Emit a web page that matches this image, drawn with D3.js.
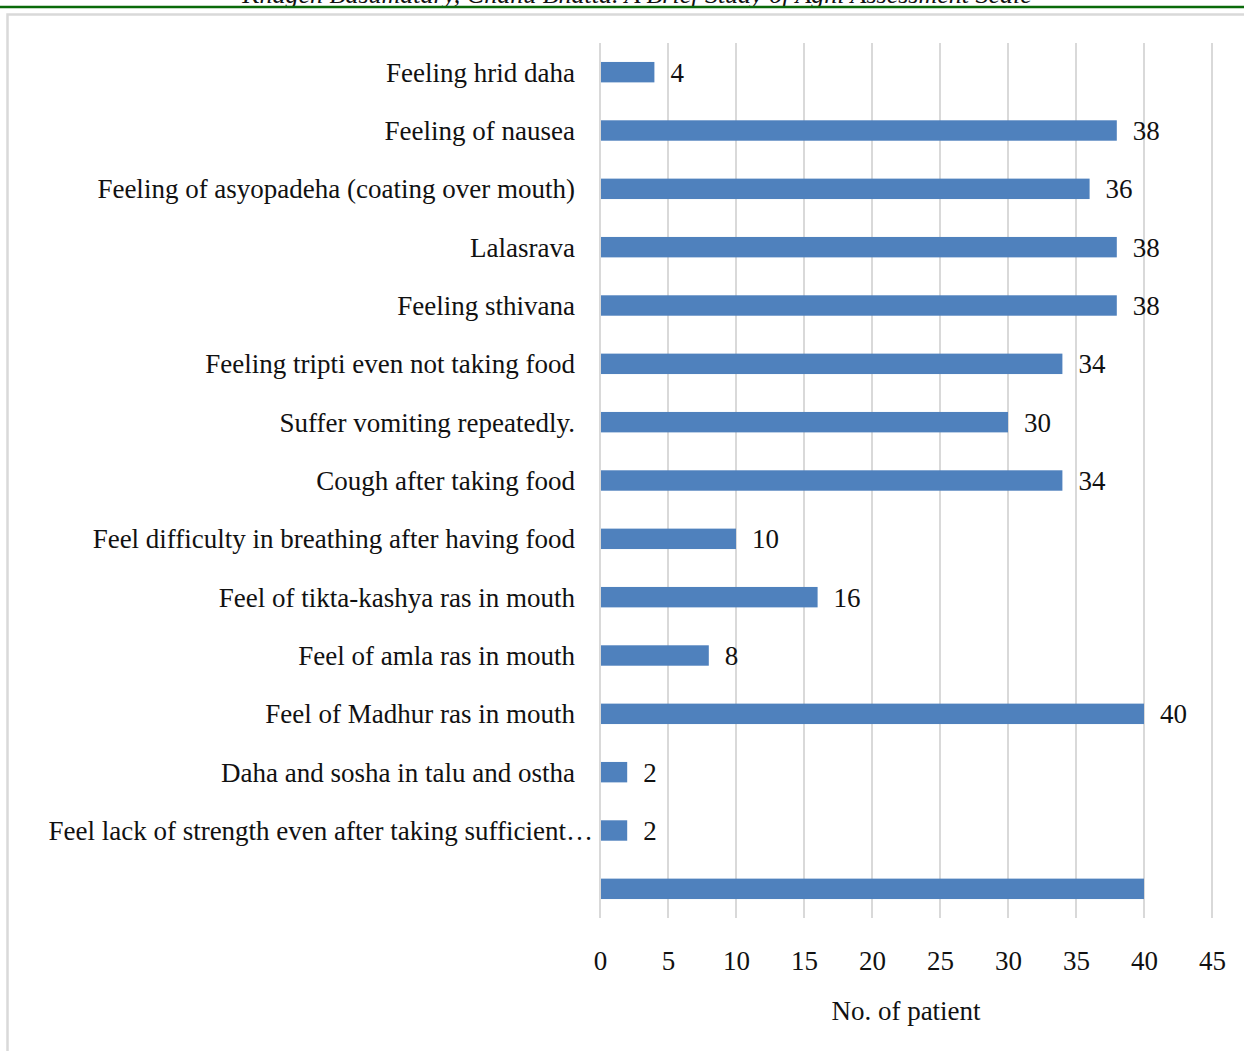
<!DOCTYPE html>
<html>
<head>
<meta charset="utf-8">
<script src="https://cdn.jsdelivr.net/npm/d3@7"></script>
<style>
  body { margin: 0; background: #fff; }
  svg { display: block; }
</style>
</head>
<body>
<div id="chart"></div>
<script>
// symptoms, top to bottom
const symptoms = [
  "Feeling hrid daha",
  "Feeling of nausea",
  "Feeling of asyopadeha (coating over mouth)",
  "Lalasrava",
  "Feeling sthivana",
  "Feeling tripti even not taking food",
  "Suffer vomiting repeatedly.",
  "Cough after taking food",
  "Feel difficulty in breathing after having food",
  "Feel of tikta-kashya ras in mouth",
  "Feel of amla ras in mouth",
  "Feel of Madhur ras in mouth",
  "Daha and sosha in talu and ostha",
  "Feel lack of strength even after taking sufficient food",
  ""
];
const patients = [4, 38, 36, 38, 38, 34, 30, 34, 10, 16, 8, 40, 2, 2, 40];
const tickValues = [0, 5, 10, 15, 20, 25, 30, 35, 40, 45];

const W = 1244, H = 1051;
const margin = { top: 43, right: 32, bottom: 133, left: 600 };
const width = W - margin.left - margin.right;
const height = H - margin.top - margin.bottom;
const font = "Liberation Serif";

const svg = d3.select("#chart").append("svg")
  .attr("width", W)
  .attr("height", H);

// page header (cut off at the top edge, as on the source page) and green rule
svg.append("text")
  .attr("x", 637)
  .attr("y", 3)
  .attr("text-anchor", "middle")
  .style("font-family", font)
  .style("font-style", "italic")
  .style("font-size", "26px")
  .style("fill", "#111")
  .text("Khagen Basumatary, Chanu Bhatta. A Brief Study of Agni Assessment Scale");

svg.append("line")
  .attr("x1", 0).attr("x2", W)
  .attr("y1", 7).attr("y2", 7)
  .style("stroke", "#0a6a0a")
  .style("stroke-width", 2.5);

// chart frame
svg.append("rect")
  .attr("x", 7.5).attr("y", 14.5)
  .attr("width", W + 20).attr("height", H + 20)
  .style("fill", "none")
  .style("stroke", "#d9d9d9")
  .style("stroke-width", 2.5);

const chart = svg.append("g")
  .attr("transform", "translate(" + margin.left + "," + margin.top + ")");

const x = d3.scaleLinear().domain([0, 45]).range([0, width]);
const y = d3.scaleBand()
  .domain(d3.range(symptoms.length))
  .range([0, height])
  .paddingInner(0.65)
  .paddingOuter(0.325);

// gridlines
chart.append("g")
  .selectAll("line")
  .data(tickValues)
  .join("line")
  .attr("x1", d => x(d)).attr("x2", d => x(d))
  .attr("y1", 0).attr("y2", height)
  .style("stroke", "#d9d9d9")
  .style("stroke-width", 2);

// bars
chart.append("g")
  .selectAll("rect")
  .data(patients)
  .join("rect")
  .attr("x", x(0) + 1)
  .attr("y", (d, i) => y(i))
  .attr("width", d => x(d) - x(0) - 1)
  .attr("height", y.bandwidth())
  .style("fill", "#4f81bd");

// value labels (last bar has none in the source)
chart.append("g")
  .selectAll("text")
  .data(patients)
  .join("text")
  .attr("x", d => x(d) + 16)
  .attr("y", (d, i) => y(i) + y.bandwidth() / 2)
  .attr("dy", "0.35em")
  .style("font-family", font)
  .style("font-size", "27px")
  .style("fill", "#111")
  .text((d, i) => (i === patients.length - 1 ? "" : d));

// category labels, right aligned and clipped with an ellipsis if too long
const labels = chart.append("g")
  .selectAll("text")
  .data(symptoms)
  .join("text")
  .attr("x", -25)
  .attr("y", (d, i) => y(i) + y.bandwidth() / 2)
  .attr("dy", "0.35em")
  .attr("text-anchor", "end")
  .style("font-family", font)
  .style("font-size", "27px")
  .style("fill", "#111")
  .text(d => d);

labels.each(function (d) {
  const t = d3.select(this);
  const maxW = 556;
  if (this.getComputedTextLength() > maxW) {
    let s = d;
    while (s.length && this.getComputedTextLength() > maxW) {
      s = s.slice(0, -1);
      t.text(s.trimEnd() + "…");
    }
    t.attr("x", -7);
  }
});

// x axis tick labels
chart.append("g")
  .attr("transform", "translate(0," + height + ")")
  .call(d3.axisBottom(x).tickValues(tickValues).tickSize(0).tickPadding(33))
  .call(g => g.select(".domain").remove())
  .selectAll("text")
  .style("font-family", font)
  .style("font-size", "27px")
  .style("fill", "#111");

// axis title
chart.append("text")
  .attr("x", width / 2)
  .attr("y", height + 102)
  .attr("text-anchor", "middle")
  .style("font-family", font)
  .style("font-size", "27px")
  .style("fill", "#111")
  .text("No. of patient");
</script>
</body>
</html>
